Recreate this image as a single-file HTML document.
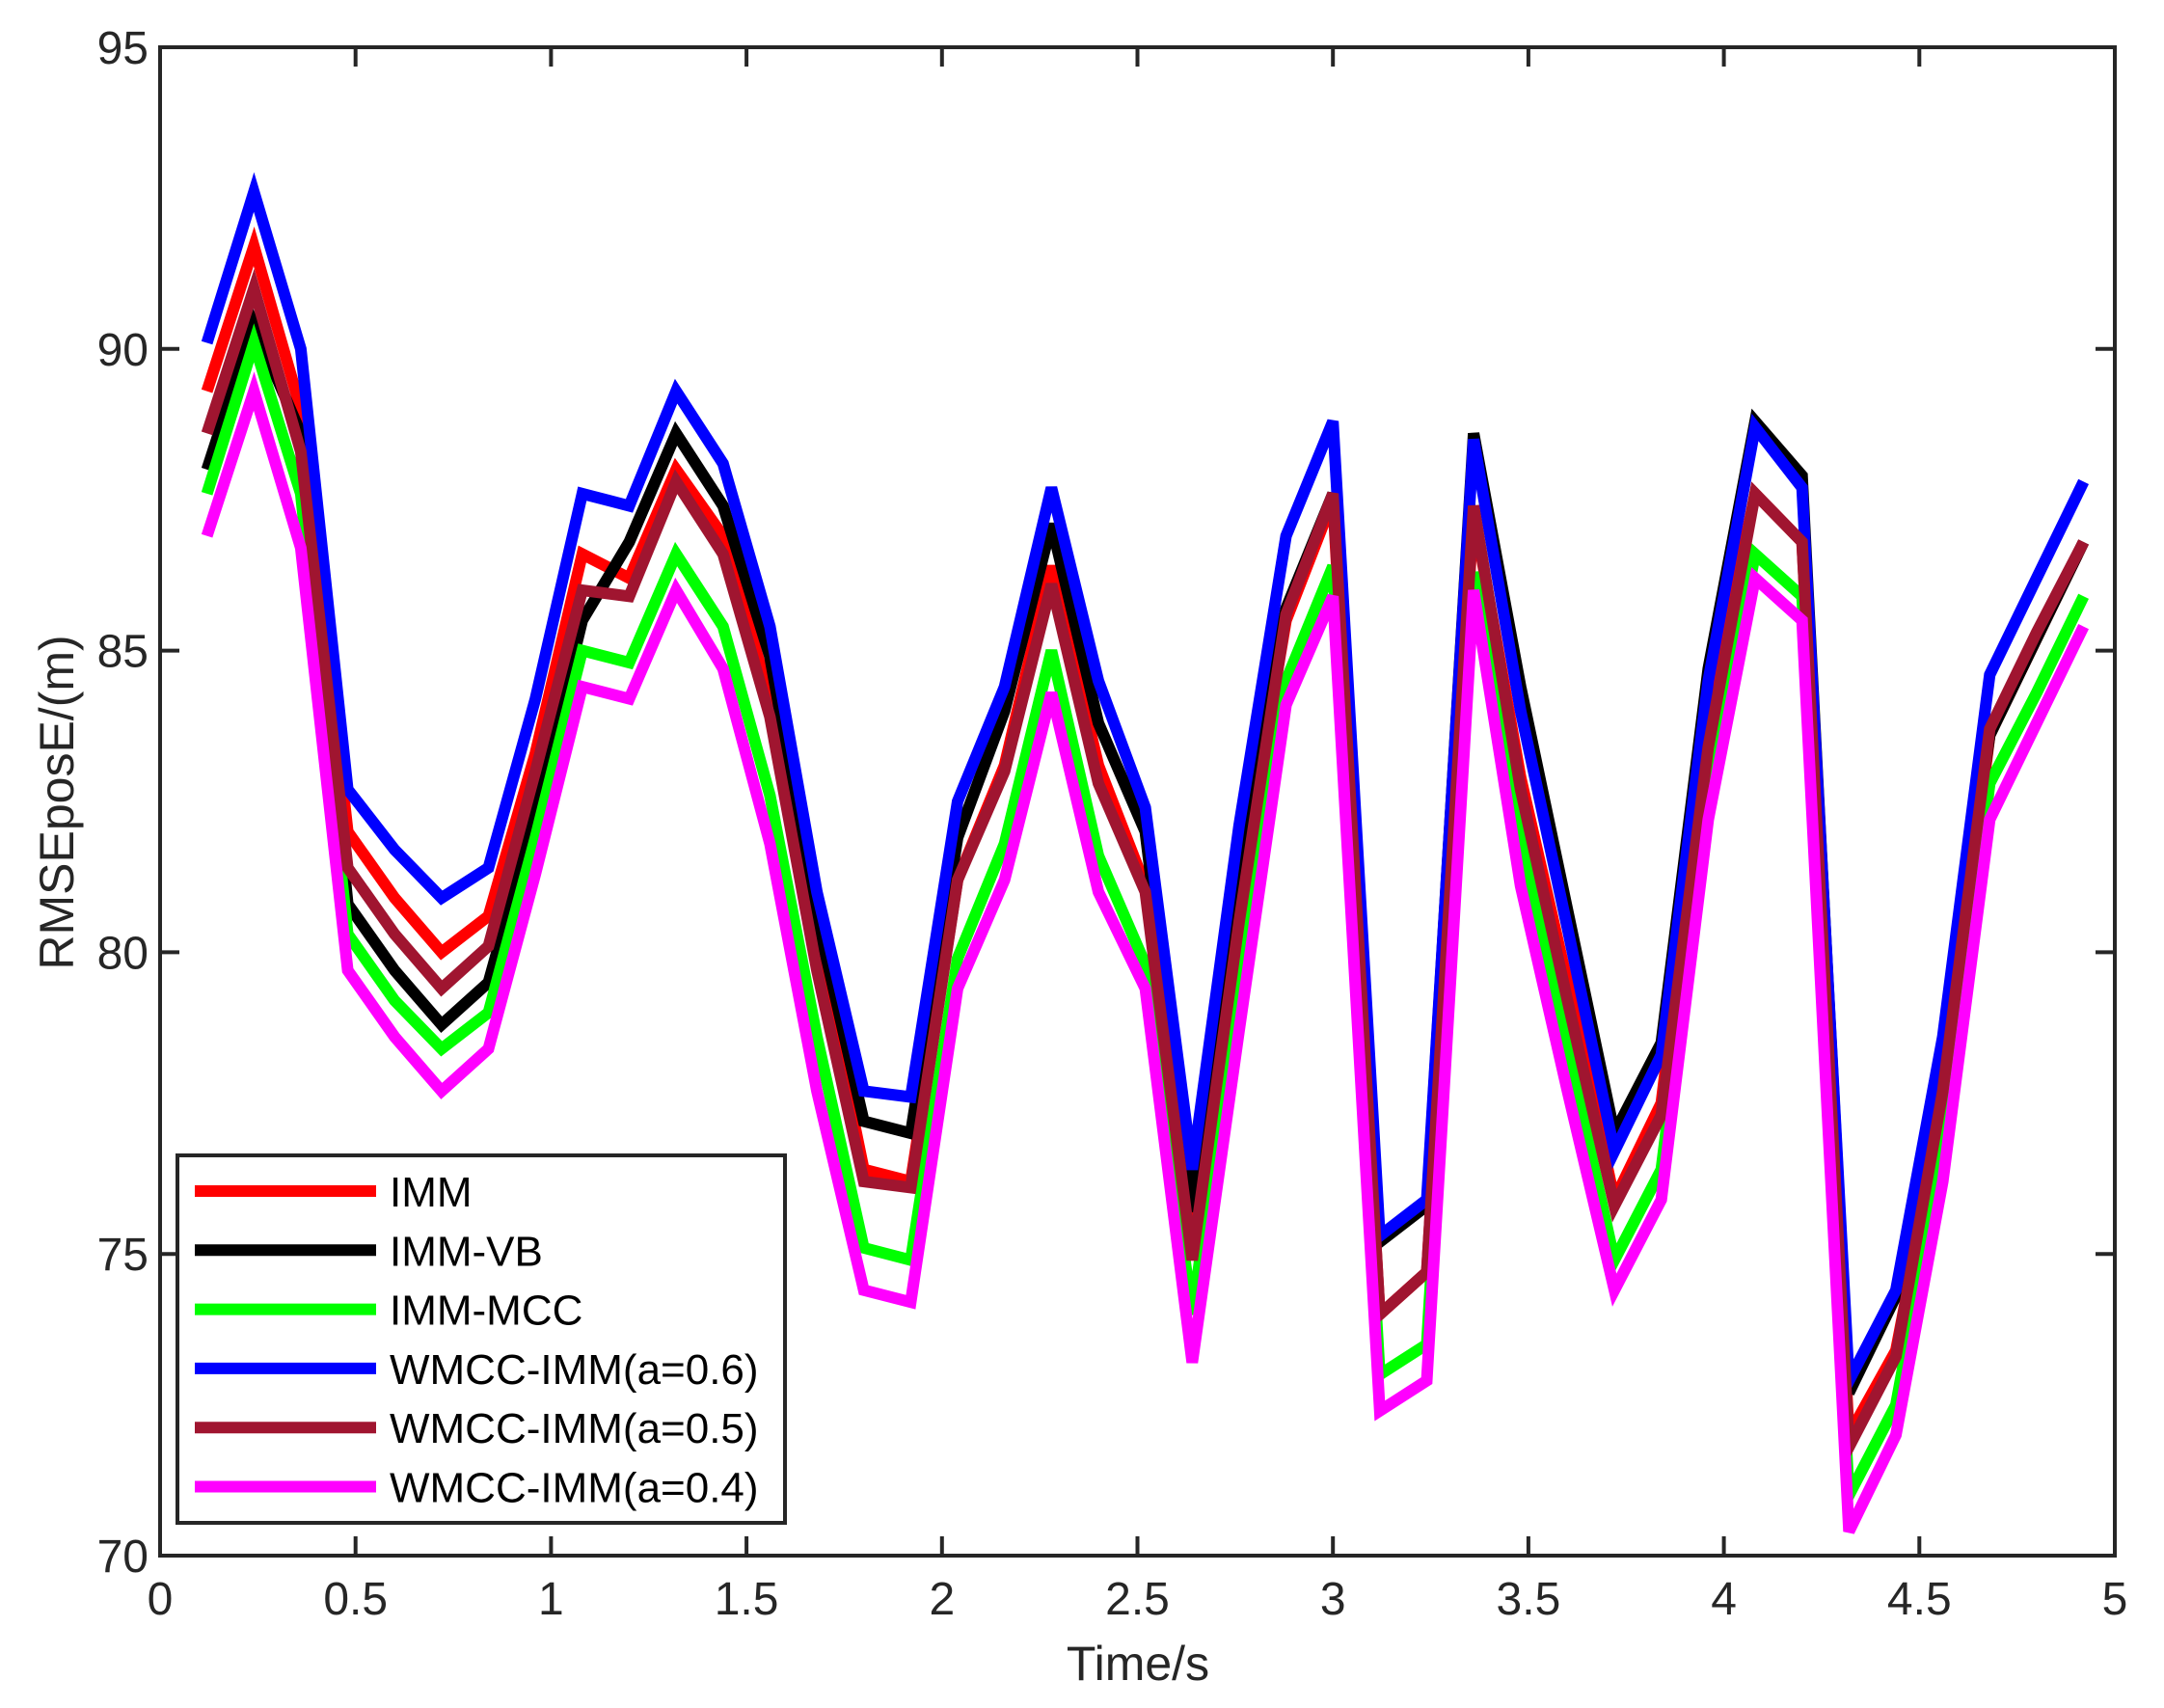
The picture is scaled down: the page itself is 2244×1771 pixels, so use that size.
<!DOCTYPE html>
<html><head><meta charset="utf-8"><style>
html,body{margin:0;padding:0;background:#fff;}
svg{display:block;}
text{font-family:"Liberation Sans",Arial,sans-serif;fill:#262626;}
</style></head><body>
<svg id="s" width="2244" height="1771" viewBox="0 0 2244 1771" xmlns="http://www.w3.org/2000/svg">
<rect width="2244" height="1771" fill="#fff"/>
<g id="series" fill="none" stroke-width="12" stroke-linejoin="miter"></g>
<g id="axes"></g>
</svg>
<script>
var X0=166,X1=2193,Y0=1613,Y1=49;
function px(t){return X0+(X1-X0)*t/5;}
function py(v){return Y0-(Y0-Y1)*(v-70)/25;}
var S=[
["#ff0000",[89.3,91.7,89.0,82.0,80.9,80.0,80.6,83.3,86.6,86.2,88.0,86.9,84.2,80.2,76.4,76.2,81.2,83.1,86.4,83.1,81.1,75.2,80.9,85.5,87.5,74.0,74.7,87.3,82.9,79.5,75.9,77.5,83.8,87.6,86.8,72.0,73.4,77.4,83.6,85.2,86.8]],
["#000000",[88.0,90.4,88.6,80.8,79.7,78.8,79.5,82.3,85.5,86.8,88.6,87.4,84.9,80.6,77.2,77.0,81.9,84.0,87.1,83.8,82.0,75.7,81.7,85.7,87.6,75.2,75.8,88.6,84.4,80.7,77.0,78.5,84.7,88.8,87.9,72.7,74.3,78.4,83.6,85.2,86.8]],
["#00ff00",[87.6,90.1,87.6,80.3,79.2,78.4,79.0,81.9,85.0,84.8,86.6,85.4,82.6,78.6,75.1,74.9,79.9,81.8,85.0,81.6,79.8,74.0,79.6,84.5,86.4,73.0,73.5,86.3,81.9,78.4,74.9,76.4,82.6,86.6,85.9,71.0,72.5,76.7,82.8,84.3,85.9]],
["#0000ff",[90.1,92.6,90.0,82.7,81.7,80.9,81.4,84.2,87.6,87.4,89.3,88.1,85.4,81.0,77.7,77.6,82.5,84.4,87.7,84.5,82.4,76.4,82.1,86.9,88.8,75.3,75.9,88.5,84.0,80.4,76.7,78.3,84.5,88.7,87.7,72.9,74.4,78.6,84.6,86.2,87.8]],
["#a01530",[88.6,91.0,88.3,81.4,80.3,79.4,80.1,83.0,86.0,85.9,87.8,86.6,83.9,79.7,76.2,76.1,81.2,83.0,86.1,82.8,81.0,74.9,80.5,85.6,87.6,74.0,74.7,87.4,82.7,79.2,75.8,77.3,83.4,87.6,86.8,71.8,73.3,77.7,83.7,85.3,86.8]],
["#ff00ff",[86.9,89.3,86.7,79.7,78.6,77.7,78.4,81.3,84.4,84.2,86.0,84.7,81.8,77.7,74.4,74.2,79.4,81.2,84.3,81.0,79.4,73.2,78.7,84.1,85.9,72.4,72.9,86.0,81.1,77.7,74.4,75.9,82.2,86.2,85.5,70.4,72.0,76.2,82.2,83.8,85.4]]
];
var h="";
S.forEach(function(s){var p=s[1].map(function(v,i){return px(0.12*(i+1)).toFixed(1)+","+py(v).toFixed(1);}).join(" ");
h+='<polyline points="'+p+'" stroke="'+s[0]+'"/>';});
document.getElementById("series").innerHTML=h;
var a='<rect x="'+X0+'" y="'+Y1+'" width="'+(X1-X0)+'" height="'+(Y0-Y1)+'" fill="none" stroke="#262626" stroke-width="4"/>';
for(var i=0;i<=10;i++){var x=px(i*0.5);
a+='<line x1="'+x+'" y1="'+Y0+'" x2="'+x+'" y2="'+(Y0-20)+'" stroke="#262626" stroke-width="4"/>';
a+='<line x1="'+x+'" y1="'+Y1+'" x2="'+x+'" y2="'+(Y1+20)+'" stroke="#262626" stroke-width="4"/>';
a+='<text x="'+x+'" y="1674" font-size="48" text-anchor="middle">'+(i*0.5)+'</text>';}
for(var v=70;v<=95;v+=5){var y=py(v);
a+='<line x1="'+X0+'" y1="'+y+'" x2="'+(X0+20)+'" y2="'+y+'" stroke="#262626" stroke-width="4"/>';
a+='<line x1="'+X1+'" y1="'+y+'" x2="'+(X1-20)+'" y2="'+y+'" stroke="#262626" stroke-width="4"/>';
a+='<text x="154" y="'+(y+17)+'" font-size="48" text-anchor="end">'+v+'</text>';}
a+='<text x="1180" y="1742" font-size="50" text-anchor="middle">Time/s</text>';
a+='<text transform="translate(76,832) rotate(-90)" font-size="50" text-anchor="middle">RMSEposE/(m)</text>';
a+='<rect x="184" y="1198" width="630" height="381" fill="#fff" stroke="#262626" stroke-width="4"/>';
var L=[["#ff0000","IMM"],["#000000","IMM-VB"],["#00ff00","IMM-MCC"],["#0000ff","WMCC-IMM(a=0.6)"],["#a01530","WMCC-IMM(a=0.5)"],["#ff00ff","WMCC-IMM(a=0.4)"]];
L.forEach(function(l,i){var y=1235+i*61.3;
a+='<line x1="202" y1="'+y+'" x2="390" y2="'+y+'" stroke="'+l[0]+'" stroke-width="12"/>';
a+='<text x="404" y="'+(y+16)+'" font-size="44" style="fill:#000">'+l[1]+'</text>';});
document.getElementById("axes").innerHTML=a;
</script>
</body></html>
